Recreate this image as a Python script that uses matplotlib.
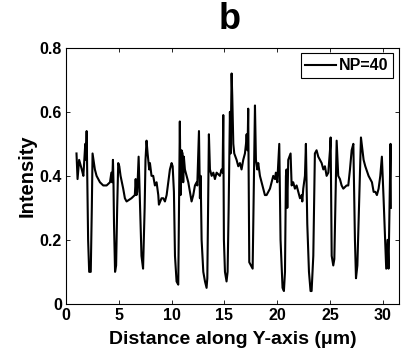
import matplotlib
matplotlib.use("Agg")
import matplotlib.pyplot as plt

# intensity profile, (distance in um, intensity)
profile = [
    (1.00, 0.47), (1.10, 0.39), (1.25, 0.45), (1.50, 0.42), (1.65, 0.40), (1.83, 0.50),
    (1.90, 0.45), (1.96, 0.54), (2.10, 0.20), (2.20, 0.10), (2.35, 0.10), (2.45, 0.30),
    (2.52, 0.47), (2.74, 0.42), (2.90, 0.40), (3.22, 0.38), (3.53, 0.37), (3.85, 0.37),
    (4.17, 0.38), (4.30, 0.41), (4.38, 0.38), (4.45, 0.45), (4.50, 0.38), (4.55, 0.25),
    (4.65, 0.10), (4.75, 0.12), (4.85, 0.30), (4.95, 0.44), (5.05, 0.43), (5.17, 0.40),
    (5.42, 0.36), (5.58, 0.33), (5.74, 0.32), (6.20, 0.33), (6.52, 0.34), (6.60, 0.39),
    (6.68, 0.34), (6.75, 0.35), (6.88, 0.46), (7.15, 0.15), (7.30, 0.11), (7.45, 0.30),
    (7.53, 0.45), (7.63, 0.51), (7.73, 0.47), (7.88, 0.42), (7.95, 0.44), (8.10, 0.40),
    (8.26, 0.40), (8.42, 0.37), (8.58, 0.38), (8.74, 0.34), (8.80, 0.31), (9.05, 0.33),
    (9.21, 0.33), (9.37, 0.32), (9.53, 0.34), (9.68, 0.38), (9.84, 0.42), (10.00, 0.44),
    (10.10, 0.43), (10.22, 0.35), (10.32, 0.15), (10.47, 0.07), (10.63, 0.06), (10.72, 0.35),
    (10.78, 0.57), (10.85, 0.34), (10.94, 0.48), (11.04, 0.47), (11.10, 0.38), (11.16, 0.46),
    (11.26, 0.42), (11.42, 0.40), (11.58, 0.38), (11.73, 0.35), (11.89, 0.32), (12.05, 0.34),
    (12.21, 0.37), (12.37, 0.38), (12.43, 0.37), (12.59, 0.54), (12.68, 0.33), (12.75, 0.40),
    (12.84, 0.20), (13.00, 0.10), (13.16, 0.07), (13.31, 0.05), (13.38, 0.08), (13.53, 0.53),
    (13.63, 0.42), (13.79, 0.40), (13.95, 0.41), (14.10, 0.39), (14.26, 0.41), (14.57, 0.40),
    (14.73, 0.42), (14.83, 0.41), (14.89, 0.59), (14.95, 0.20), (15.05, 0.10), (15.20, 0.07),
    (15.30, 0.10), (15.40, 0.30), (15.52, 0.60), (15.58, 0.47), (15.68, 0.72), (15.74, 0.65),
    (15.84, 0.50), (15.93, 0.47), (16.15, 0.45), (16.31, 0.43), (16.47, 0.44), (16.62, 0.42),
    (16.78, 0.45), (16.94, 0.47), (17.04, 0.50), (17.10, 0.53), (17.19, 0.48), (17.25, 0.61),
    (17.35, 0.13), (17.51, 0.12), (17.67, 0.11), (17.89, 0.62), (17.98, 0.45), (18.11, 0.42),
    (18.20, 0.44), (18.36, 0.40), (18.52, 0.38), (18.68, 0.36), (18.83, 0.34), (18.99, 0.34),
    (19.31, 0.36), (19.47, 0.38), (19.62, 0.40), (19.78, 0.39), (19.87, 0.41), (20.00, 0.38),
    (20.19, 0.50), (20.31, 0.20), (20.50, 0.05), (20.63, 0.04), (20.73, 0.10), (20.82, 0.40),
    (20.88, 0.42), (20.95, 0.30), (21.04, 0.45), (21.26, 0.47), (21.36, 0.37), (21.51, 0.38),
    (21.67, 0.36), (21.83, 0.37), (21.99, 0.35), (22.15, 0.33), (22.31, 0.34), (22.37, 0.32),
    (22.46, 0.36), (22.62, 0.40), (22.71, 0.50), (22.84, 0.25), (23.00, 0.10), (23.15, 0.04),
    (23.25, 0.04), (23.41, 0.15), (23.56, 0.47), (23.72, 0.48), (23.88, 0.46), (24.04, 0.45),
    (24.20, 0.44), (24.36, 0.42), (24.51, 0.43), (24.67, 0.40), (24.83, 0.41), (24.99, 0.48),
    (25.05, 0.52), (25.15, 0.15), (25.30, 0.12), (25.40, 0.14), (25.62, 0.51), (25.77, 0.40),
    (25.93, 0.39), (26.09, 0.37), (26.25, 0.36), (26.56, 0.37), (26.72, 0.37), (26.88, 0.42),
    (27.04, 0.48), (27.20, 0.50), (27.35, 0.20), (27.45, 0.08), (27.58, 0.12), (27.92, 0.52),
    (28.17, 0.45), (28.33, 0.43), (28.64, 0.40), (28.96, 0.38), (29.12, 0.35), (29.28, 0.35),
    (29.43, 0.34), (29.59, 0.36), (29.75, 0.40), (29.90, 0.46), (30.06, 0.33), (30.31, 0.11),
    (30.44, 0.20), (30.53, 0.11), (30.72, 0.50), (30.75, 0.30),
]
dist = [p[0] for p in profile]
intensity = [p[1] for p in profile]

x_ticks = [0, 5, 10, 15, 20, 25, 30]
y_ticks = [0, 0.2, 0.4, 0.6, 0.8]
y_tick_labels = ["0", "0.2", "0.4", "0.6", "0.8"]

plt.rcParams['font.family'] = ['Liberation Sans', 'DejaVu Sans']
plt.rcParams['font.weight'] = 'bold'

fig = plt.figure(figsize=(4.02, 3.6), dpi=100)
ax = fig.add_axes([0.164, 0.156, 0.828, 0.711])

ax.plot(dist, intensity, color='k', lw=1.5, label="NP=40")

ax.set_xlim(0, 31.5)
ax.set_ylim(0, 0.8)
ax.set_xticks(x_ticks)
ax.set_yticks(y_ticks)
ax.set_yticklabels(y_tick_labels)
ax.tick_params(direction='in', top=True, right=True, length=3, width=0.6,
               labelsize=11.5, pad=3)
for lab in ax.get_xticklabels() + ax.get_yticklabels():
    lab.set_fontweight('bold')
for s in ax.spines.values():
    s.set_linewidth(0.8)

ax.set_xlabel("Distance along Y-axis (μm)", fontsize=14, fontweight='bold', labelpad=6)
ax.set_ylabel("Intensity", fontsize=14.5, fontweight='bold', labelpad=2)

leg = ax.legend(loc='upper right', fontsize=11.5, handlelength=1.9, handletextpad=0.2,
                fancybox=False, framealpha=1, borderpad=0.3, borderaxespad=0.35)
leg.get_frame().set_edgecolor('k')
leg.get_frame().set_linewidth(0.8)
for t in leg.get_texts():
    t.set_fontweight('bold')

fig.text(0.572, 0.945, "b", fontsize=26, fontweight='bold', ha='center', va='center')

fig.savefig("out.png", dpi=100)
